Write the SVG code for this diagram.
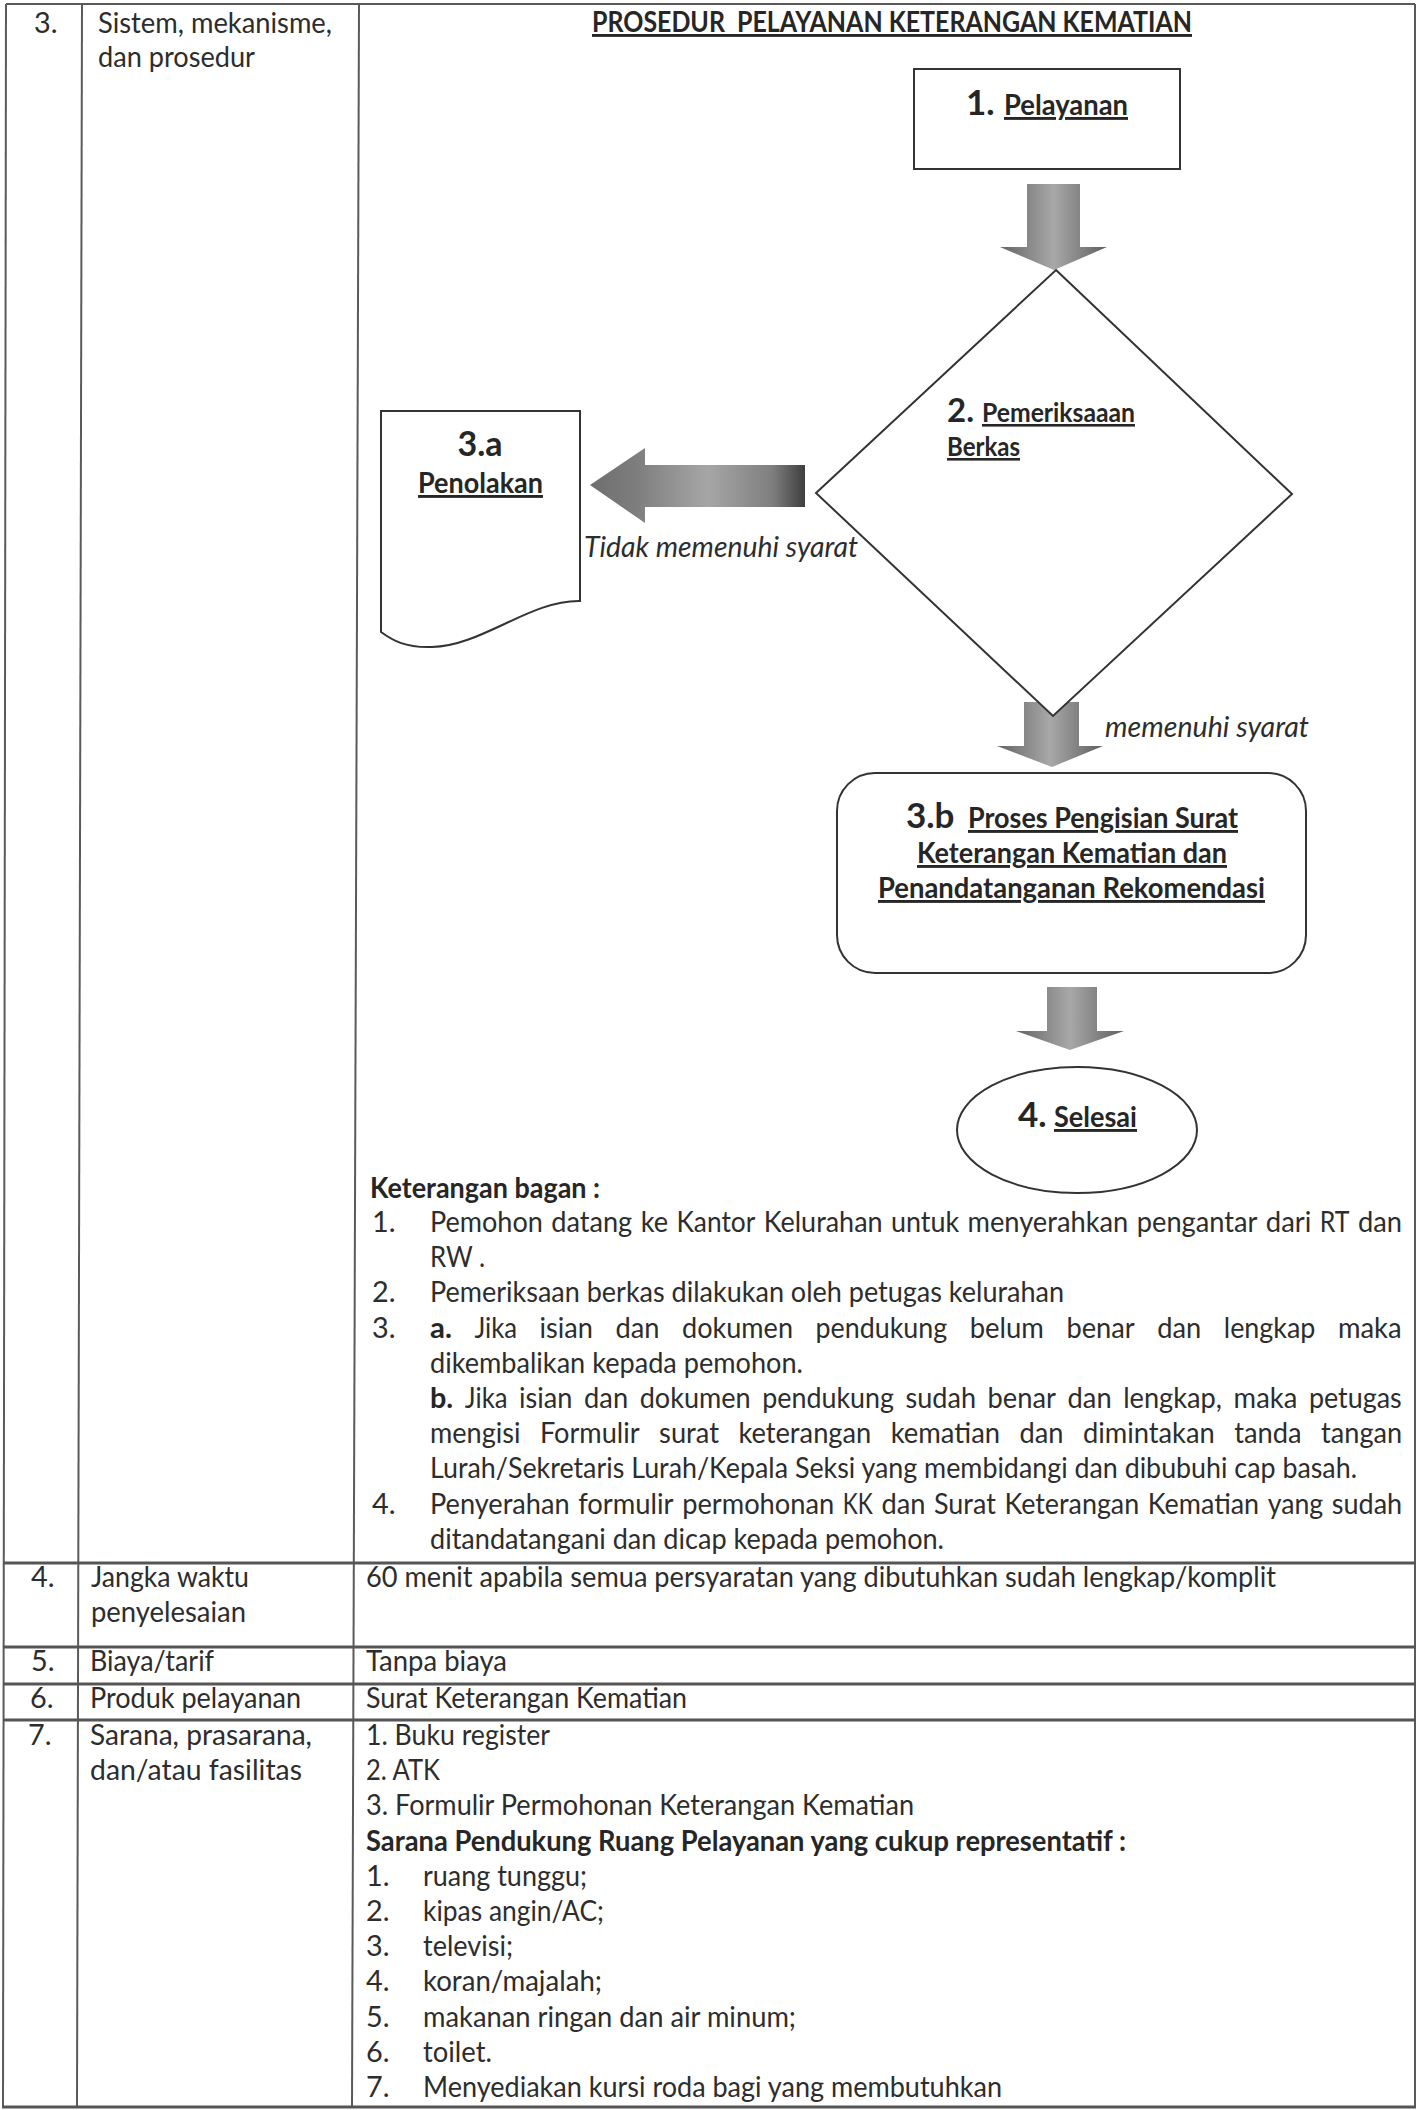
<svg xmlns="http://www.w3.org/2000/svg" width="1418" height="2110" viewBox="0 0 1418 2110">
<style>
.t{font-family:Lato,"Noto Sans","Liberation Sans",sans-serif;font-size:28.8px;fill:#2d2d2d}
.b{font-weight:700;fill:#262626}
.i{font-style:italic}
.u{text-decoration:underline}
.big{font-size:35px}
.grid{stroke:#5a5a5a;stroke-width:2;fill:none}
.hgrid{stroke:#555;stroke-width:3;fill:none}
.shape{fill:#fff;stroke:#333;stroke-width:2}
</style>
<defs>
<linearGradient id="gdown" x1="0" y1="0" x2="1" y2="0">
<stop offset="0" stop-color="#646464"/>
<stop offset="0.5" stop-color="#a8a8a8"/>
<stop offset="1" stop-color="#5f5f5f"/>
</linearGradient>
<linearGradient id="gleft" x1="0" y1="0" x2="1" y2="0">
<stop offset="0" stop-color="#6e6e6e"/>
<stop offset="0.2" stop-color="#7c7c7c"/>
<stop offset="0.55" stop-color="#a6a6a6"/>
<stop offset="0.85" stop-color="#7e7e7e"/>
<stop offset="1" stop-color="#3e3e3e"/>
</linearGradient>
</defs>
<rect width="1418" height="2110" fill="#fff"/>

<g id="table">
<line class="grid" x1="6" y1="4" x2="1415" y2="4"/>
<line class="grid" x1="6" y1="4" x2="3" y2="2107"/>
<line class="grid" x1="82" y1="4" x2="77" y2="2107"/>
<line class="grid" x1="359" y1="4" x2="352" y2="2107"/>
<line class="grid" x1="1415" y1="4" x2="1415" y2="2107"/>
<line class="hgrid" x1="3" y1="1563" x2="1416" y2="1563"/>
<line class="hgrid" x1="3" y1="1647" x2="1416" y2="1647"/>
<line class="hgrid" x1="3" y1="1684" x2="1416" y2="1684"/>
<line class="hgrid" x1="3" y1="1720" x2="1416" y2="1720"/>
<line class="hgrid" x1="2" y1="2107" x2="1416" y2="2107"/>
</g>

<g id="row3">
<text class="t" x="34" y="33">3.</text>
<text class="t" x="98" y="33" textLength="234" lengthAdjust="spacingAndGlyphs">Sistem, mekanisme,</text>
<text class="t" x="98" y="67" textLength="157" lengthAdjust="spacingAndGlyphs">dan prosedur</text>
<text class="t b u" x="592" y="32" xml:space="preserve" textLength="600" lengthAdjust="spacingAndGlyphs">PROSEDUR  PELAYANAN KETERANGAN KEMATIAN</text>
</g>

<g id="connectors">
<polygon points="1027,184 1080,184 1080,247 1107,247 1054,270 1000,247 1027,247" fill="url(#gdown)"/>
<polygon points="590,485 645,448 645,465 805,465 805,507 645,507 645,523" fill="url(#gleft)"/>
<text class="t i" x="584" y="557" textLength="274" lengthAdjust="spacingAndGlyphs">Tidak memenuhi syarat</text>
<polygon points="1024,702 1079,702 1079,746 1103,746 1052,767 997,746 1024,746" fill="url(#gdown)"/>
<text class="t i" x="1105" y="737" textLength="204" lengthAdjust="spacingAndGlyphs">memenuhi syarat</text>
<polygon points="1047,987 1097,987 1097,1031 1124,1031 1070,1050 1016,1031 1047,1031" fill="url(#gdown)"/>
</g>

<g id="node-1">
<rect class="shape" x="914" y="69" width="266" height="100"/>
<text class="t b big" x="966" y="115">1.</text>
<text class="t b u" x="1004" y="115" textLength="124" lengthAdjust="spacingAndGlyphs">Pelayanan</text>
</g>

<g id="node-2">
<polygon class="shape" points="1056,270 1292,494 1053,716 816,493"/>
<text class="t b" style="font-size:33px" x="947" y="422">2.</text>
<text class="t b u" style="font-size:26px" x="982" y="422" textLength="153" lengthAdjust="spacingAndGlyphs">Pemeriksaaan</text>
<text class="t b u" style="font-size:26px" x="947" y="456" textLength="73" lengthAdjust="spacingAndGlyphs">Berkas</text>
</g>

<g id="node-3a">
<path class="shape" d="M381,411 H580 V601 C530,600 482,646 432,647 C405,648 392,640 381,632 Z"/>
<text class="t b" style="font-size:34px" x="480" y="456" text-anchor="middle">3.a</text>
<text class="t b u" x="418" y="493" textLength="125" lengthAdjust="spacingAndGlyphs">Penolakan</text>
</g>

<g id="node-3b">
<rect class="shape" x="837" y="773" width="469" height="200" rx="38" ry="38"/>
<text class="t b big" x="906" y="828">3.b</text>
<text class="t b u" x="968" y="828" textLength="270" lengthAdjust="spacingAndGlyphs">Proses Pengisian Surat</text>
<text class="t b u" x="917" y="863" textLength="310" lengthAdjust="spacingAndGlyphs">Keterangan Kematian dan</text>
<text class="t b u" x="878" y="898" textLength="387" lengthAdjust="spacingAndGlyphs">Penandatanganan Rekomendasi</text>
</g>

<g id="node-4">
<ellipse class="shape" cx="1077" cy="1130" rx="120" ry="63"/>
<text class="t b big" x="1018" y="1127">4.</text>
<text class="t b u" x="1054" y="1127" textLength="83" lengthAdjust="spacingAndGlyphs">Selesai</text>
</g>

<g id="keterangan">
<text class="t b" x="370" y="1198" textLength="230" lengthAdjust="spacingAndGlyphs">Keterangan bagan :</text>
<text class="t" x="372" y="1232">1.</text>
<g id="k1">
<text class="t" y="1232" x="430" textLength="112.8" lengthAdjust="spacingAndGlyphs">Pemohon</text>
<text class="t" y="1232" x="551.2" textLength="81" lengthAdjust="spacingAndGlyphs">datang</text>
<text class="t" y="1232" x="640.7" textLength="27.4" lengthAdjust="spacingAndGlyphs">ke</text>
<text class="t" y="1232" x="676.5" textLength="78.8" lengthAdjust="spacingAndGlyphs">Kantor</text>
<text class="t" y="1232" x="763.7" textLength="118.9" lengthAdjust="spacingAndGlyphs">Kelurahan</text>
<text class="t" y="1232" x="891" textLength="68.1" lengthAdjust="spacingAndGlyphs">untuk</text>
<text class="t" y="1232" x="967.5" textLength="160.8" lengthAdjust="spacingAndGlyphs">menyerahkan</text>
<text class="t" y="1232" x="1136.8" textLength="120.6" lengthAdjust="spacingAndGlyphs">pengantar</text>
<text class="t" y="1232" x="1265.8" textLength="45.6" lengthAdjust="spacingAndGlyphs">dari</text>
<text class="t" y="1232" x="1319.8" textLength="29.7" lengthAdjust="spacingAndGlyphs">RT</text>
<text class="t" y="1232" x="1357.9" textLength="44" lengthAdjust="spacingAndGlyphs">dan</text>
</g>
<text class="t" x="430" y="1267" textLength="55" lengthAdjust="spacingAndGlyphs">RW .</text>
<text class="t" x="372" y="1302">2.</text>
<text class="t" x="430" y="1302" textLength="634" lengthAdjust="spacingAndGlyphs">Pemeriksaan berkas dilakukan oleh petugas kelurahan</text>
<text class="t" x="372" y="1338">3.</text>
<g id="k3a">
<text class="t b" y="1338" x="430" textLength="21.9" lengthAdjust="spacingAndGlyphs">a.</text>
<text class="t" y="1338" x="474.4" textLength="42.7" lengthAdjust="spacingAndGlyphs">Jika</text>
<text class="t" y="1338" x="539.6" textLength="53.4" lengthAdjust="spacingAndGlyphs">isian</text>
<text class="t" y="1338" x="615.5" textLength="44" lengthAdjust="spacingAndGlyphs">dan</text>
<text class="t" y="1338" x="682" textLength="111" lengthAdjust="spacingAndGlyphs">dokumen</text>
<text class="t" y="1338" x="815.5" textLength="131.7" lengthAdjust="spacingAndGlyphs">pendukung</text>
<text class="t" y="1338" x="969.7" textLength="74.2" lengthAdjust="spacingAndGlyphs">belum</text>
<text class="t" y="1338" x="1066.4" textLength="68.4" lengthAdjust="spacingAndGlyphs">benar</text>
<text class="t" y="1338" x="1157.3" textLength="44" lengthAdjust="spacingAndGlyphs">dan</text>
<text class="t" y="1338" x="1223.8" textLength="91.6" lengthAdjust="spacingAndGlyphs">lengkap</text>
<text class="t" y="1338" x="1337.9" textLength="63.7" lengthAdjust="spacingAndGlyphs">maka</text>
</g>
<text class="t" x="430" y="1373" textLength="373" lengthAdjust="spacingAndGlyphs">dikembalikan kepada pemohon.</text>
<g id="k3b">
<text class="t b" y="1408" x="430" textLength="23.2" lengthAdjust="spacingAndGlyphs">b.</text>
<text class="t" y="1408" x="464.8" textLength="42.7" lengthAdjust="spacingAndGlyphs">Jika</text>
<text class="t" y="1408" x="519.1" textLength="53.4" lengthAdjust="spacingAndGlyphs">isian</text>
<text class="t" y="1408" x="584.1" textLength="44" lengthAdjust="spacingAndGlyphs">dan</text>
<text class="t" y="1408" x="639.7" textLength="111" lengthAdjust="spacingAndGlyphs">dokumen</text>
<text class="t" y="1408" x="762.3" textLength="131.7" lengthAdjust="spacingAndGlyphs">pendukung</text>
<text class="t" y="1408" x="905.6" textLength="70.4" lengthAdjust="spacingAndGlyphs">sudah</text>
<text class="t" y="1408" x="987.6" textLength="68.4" lengthAdjust="spacingAndGlyphs">benar</text>
<text class="t" y="1408" x="1067.6" textLength="44" lengthAdjust="spacingAndGlyphs">dan</text>
<text class="t" y="1408" x="1123.2" textLength="98.8" lengthAdjust="spacingAndGlyphs">lengkap,</text>
<text class="t" y="1408" x="1233.6" textLength="63.7" lengthAdjust="spacingAndGlyphs">maka</text>
<text class="t" y="1408" x="1308.9" textLength="92.9" lengthAdjust="spacingAndGlyphs">petugas</text>
</g>
<g id="k3b2">
<text class="t" y="1443" x="430" textLength="90.5" lengthAdjust="spacingAndGlyphs">mengisi</text>
<text class="t" y="1443" x="539.9" textLength="99.8" lengthAdjust="spacingAndGlyphs">Formulir</text>
<text class="t" y="1443" x="659.1" textLength="59.9" lengthAdjust="spacingAndGlyphs">surat</text>
<text class="t" y="1443" x="738.4" textLength="132.9" lengthAdjust="spacingAndGlyphs">keterangan</text>
<text class="t" y="1443" x="890.7" textLength="109.4" lengthAdjust="spacingAndGlyphs">kematian</text>
<text class="t" y="1443" x="1019.5" textLength="44" lengthAdjust="spacingAndGlyphs">dan</text>
<text class="t" y="1443" x="1082.9" textLength="131.9" lengthAdjust="spacingAndGlyphs">dimintakan</text>
<text class="t" y="1443" x="1234.2" textLength="67.5" lengthAdjust="spacingAndGlyphs">tanda</text>
<text class="t" y="1443" x="1321.1" textLength="81" lengthAdjust="spacingAndGlyphs">tangan</text>
</g>
<text class="t" x="430" y="1478" textLength="927" lengthAdjust="spacingAndGlyphs">Lurah/Sekretaris Lurah/Kepala Seksi yang membidangi dan dibubuhi cap basah.</text>
<text class="t" x="372" y="1514">4.</text>
<g id="k4">
<text class="t" y="1514" x="430" textLength="139.6" lengthAdjust="spacingAndGlyphs">Penyerahan</text>
<text class="t" y="1514" x="578.2" textLength="95.4" lengthAdjust="spacingAndGlyphs">formulir</text>
<text class="t" y="1514" x="682.2" textLength="152" lengthAdjust="spacingAndGlyphs">permohonan</text>
<text class="t" y="1514" x="842.8" textLength="30" lengthAdjust="spacingAndGlyphs">KK</text>
<text class="t" y="1514" x="881.4" textLength="44" lengthAdjust="spacingAndGlyphs">dan</text>
<text class="t" y="1514" x="934" textLength="61.8" lengthAdjust="spacingAndGlyphs">Surat</text>
<text class="t" y="1514" x="1004.4" textLength="134.8" lengthAdjust="spacingAndGlyphs">Keterangan</text>
<text class="t" y="1514" x="1147.8" textLength="111.3" lengthAdjust="spacingAndGlyphs">Kematian</text>
<text class="t" y="1514" x="1267.7" textLength="55.5" lengthAdjust="spacingAndGlyphs">yang</text>
<text class="t" y="1514" x="1331.8" textLength="70.4" lengthAdjust="spacingAndGlyphs">sudah</text>
</g>
<text class="t" x="430" y="1549" textLength="514" lengthAdjust="spacingAndGlyphs">ditandatangani dan dicap kepada pemohon.</text>
</g>

<g id="row4">
<text class="t" x="31" y="1587">4.</text>
<text class="t" x="91" y="1587" textLength="158" lengthAdjust="spacingAndGlyphs">Jangka waktu</text>
<text class="t" x="91" y="1622" textLength="155" lengthAdjust="spacingAndGlyphs">penyelesaian</text>
<text class="t" x="366" y="1587" textLength="910" lengthAdjust="spacingAndGlyphs">60 menit apabila semua persyaratan yang dibutuhkan sudah lengkap/komplit</text>
</g>

<g id="row5">
<text class="t" x="31" y="1671">5.</text>
<text class="t" x="90" y="1671" textLength="124" lengthAdjust="spacingAndGlyphs">Biaya/tarif</text>
<text class="t" x="366" y="1671" textLength="141" lengthAdjust="spacingAndGlyphs">Tanpa biaya</text>
</g>

<g id="row6">
<text class="t" x="30" y="1708">6.</text>
<text class="t" x="90" y="1708" textLength="211" lengthAdjust="spacingAndGlyphs">Produk pelayanan</text>
<text class="t" x="366" y="1708" textLength="321" lengthAdjust="spacingAndGlyphs">Surat Keterangan Kematian</text>
</g>

<g id="row7">
<text class="t" x="28" y="1745">7.</text>
<text class="t" x="90" y="1745" textLength="222" lengthAdjust="spacingAndGlyphs">Sarana, prasarana,</text>
<text class="t" x="90" y="1780" textLength="212" lengthAdjust="spacingAndGlyphs">dan/atau fasilitas</text>
<text class="t" x="366" y="1745" textLength="184" lengthAdjust="spacingAndGlyphs">1. Buku register</text>
<text class="t" x="366" y="1780" textLength="74" lengthAdjust="spacingAndGlyphs">2. ATK</text>
<text class="t" x="366" y="1815" textLength="548" lengthAdjust="spacingAndGlyphs">3. Formulir Permohonan Keterangan Kematian</text>
<text class="t b" x="366" y="1851" textLength="760" lengthAdjust="spacingAndGlyphs">Sarana Pendukung Ruang Pelayanan yang cukup representatif :</text>
<text class="t" x="366" y="1886">1.</text><text class="t" x="423" y="1886" textLength="164" lengthAdjust="spacingAndGlyphs">ruang tunggu;</text>
<text class="t" x="366" y="1921">2.</text><text class="t" x="423" y="1921" textLength="181" lengthAdjust="spacingAndGlyphs">kipas angin/AC;</text>
<text class="t" x="366" y="1956">3.</text><text class="t" x="423" y="1956" textLength="90" lengthAdjust="spacingAndGlyphs">televisi;</text>
<text class="t" x="366" y="1991">4.</text><text class="t" x="423" y="1991" textLength="179" lengthAdjust="spacingAndGlyphs">koran/majalah;</text>
<text class="t" x="366" y="2027">5.</text><text class="t" x="423" y="2027" textLength="373" lengthAdjust="spacingAndGlyphs">makanan ringan dan air minum;</text>
<text class="t" x="366" y="2062">6.</text><text class="t" x="423" y="2062" textLength="69" lengthAdjust="spacingAndGlyphs">toilet.</text>
<text class="t" x="366" y="2097">7.</text><text class="t" x="423" y="2097" textLength="579" lengthAdjust="spacingAndGlyphs">Menyediakan kursi roda bagi yang membutuhkan</text>
</g>
</svg>
